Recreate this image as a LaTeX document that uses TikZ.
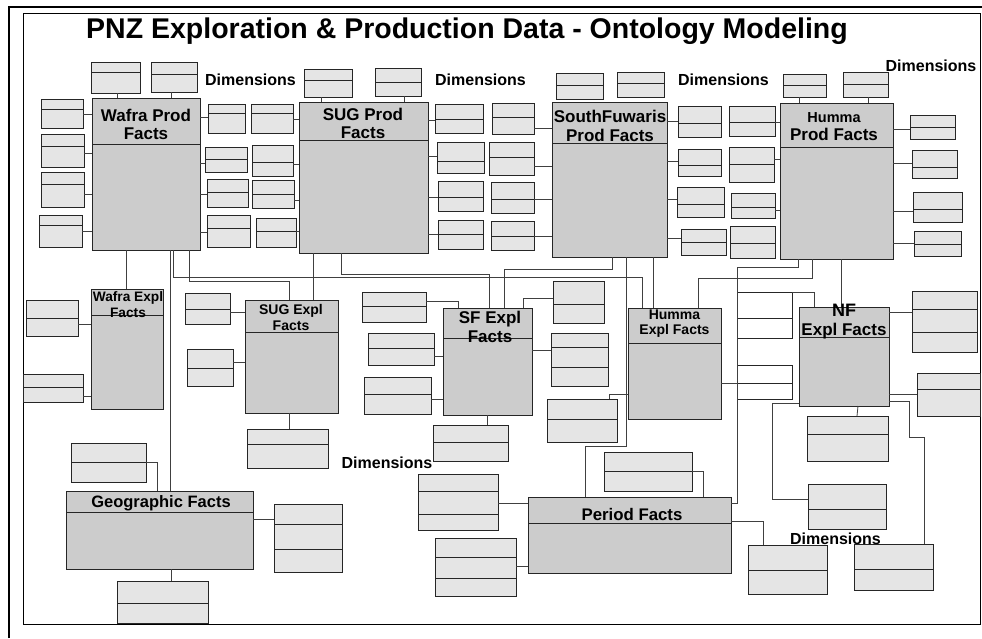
\documentclass[tikz,border=0pt]{standalone}
\usepackage{fontspec}
\setmainfont{Liberation Sans}
\definecolor{dimfill}{gray}{0.9}
\definecolor{factfill}{gray}{0.8}
\definecolor{edgec}{gray}{0.15}
\definecolor{wirec}{gray}{0.25}
\newcommand\mkbox[7]{%
  \node[#1, minimum width={(#5-#3)*1pt}, minimum height={(#6-#4)*1pt}] (#2) at ({(#3+#5)/2},{(#4+#6)/2}) {};
  \foreach \dv in {#7}{\draw[divl] (#2.west|-0,\dv) -- (#2.east|-0,\dv);}
}
\newcommand\fs[2]{\fontsize{#1}{#2}\selectfont}
\tikzset{
  dbox/.style={rectangle, draw=edgec, fill=dimfill, line width=0.9pt, inner sep=0pt, outer sep=0pt},
  wbox/.style={rectangle, draw=edgec, fill=white, line width=0.9pt, inner sep=0pt, outer sep=0pt},
  fbox/.style={rectangle, draw=edgec, fill=factfill, line width=1pt, inner sep=0pt, outer sep=0pt},
  divl/.style={draw=edgec, line width=0.9pt},
  conn/.style={draw=wirec, line width=0.8pt},
  ftext/.style={font=\bfseries, align=center, inner sep=0pt, text=black},
  dimlab/.style={font=\bfseries\fs{16}{18}, inner sep=0pt, text=black},
}
\begin{document}
\begin{tikzpicture}[x=1pt,y=-1pt]
\useasboundingbox (0,0) rectangle (982,638);
% frame
\draw[line width=2.2pt] (9,638) -- (9,7) -- (982,7);
\draw[line width=1pt] (23,13) rectangle (980,624);
\node[font=\bfseries\fs{28.5}{30}, inner sep=0pt] (title) at (467,31) {PNZ Exploration \& Production Data - Ontology Modeling};

% dimension labels
\node[dimlab] (dl1) at (250.5,80) {Dimensions};
\node[dimlab] (dl2) at (480.5,80) {Dimensions};
\node[dimlab] (dl3) at (723.5,80) {Dimensions};
\node[dimlab] (dl4) at (931,66) {Dimensions};
\node[dimlab] (dl5) at (387,463) {Dimensions};
\node[dimlab] (dl6) at (835.5,539) {Dimensions};

% fact boxes
\mkbox{fbox}{wp}{92}{98}{200}{250}{144}
\mkbox{fbox}{sp}{299}{102}{428}{253}{140}
\mkbox{fbox}{fp}{552}{102}{667}{257}{143}
\mkbox{fbox}{hp}{780}{103}{893}{259}{147}
\mkbox{fbox}{we}{91}{289}{163}{409}{315}
\mkbox{fbox}{se}{245}{300}{338}{413}{332}
\mkbox{fbox}{fe}{443}{308}{532}{415}{338}
\mkbox{fbox}{he}{628}{308}{721}{419}{343}
\mkbox{fbox}{ne}{799}{307}{889}{406}{337}
\mkbox{fbox}{geo}{66}{491}{253}{569}{512}
\mkbox{fbox}{per}{528}{497}{731}{573}{523}

% top dimension boxes
\mkbox{dbox}{a1}{91}{62}{140}{93}{72}
\mkbox{dbox}{a2}{151}{62}{197}{92}{74}
\mkbox{dbox}{b1}{304}{69}{352}{97}{80}
\mkbox{dbox}{b2}{375}{68}{421}{96}{82}
\mkbox{dbox}{c1}{556}{73}{603}{99}{85}
\mkbox{dbox}{c2}{617}{72}{664}{97}{83}
\mkbox{dbox}{d1}{783}{74}{826}{97}{85}
\mkbox{dbox}{d2}{843}{72}{888}{97}{84}
\draw[conn] (a1.south-|117,0) -- (wp.north-|117,0);
\draw[conn] (a2.south-|171,0) -- (wp.north-|171,0);
\draw[conn] (b1.south-|321,0) -- (sp.north-|321,0);
\draw[conn] (b2.south-|404,0) -- (sp.north-|404,0);
\draw[conn] (d1.south-|799,0) -- (hp.north-|799,0);
\draw[conn] (d2.south-|868,0) -- (hp.north-|868,0);

% Wafra left
\mkbox{dbox}{l1}{41}{99}{83}{128}{109}
\mkbox{dbox}{l2}{41}{134}{84}{167}{146}
\mkbox{dbox}{l3}{41}{172}{84}{207}{184}
\mkbox{dbox}{l4}{39}{215}{82}{247}{225}
\draw[conn] (l1.east|-0,114) -- (wp.west|-0,114);
\draw[conn] (l2.east|-0,153) -- (wp.west|-0,153);
\draw[conn] (l3.east|-0,194) -- (wp.west|-0,194);
\draw[conn] (l4.east|-0,231) -- (wp.west|-0,231);

% Wafra - SUG
\mkbox{dbox}{r1}{208}{104}{245}{133}{113}
\mkbox{dbox}{r2}{251}{104}{293}{133}{113}
\mkbox{dbox}{r3}{205}{147}{247}{172}{159}
\mkbox{dbox}{r4}{252}{145}{293}{176}{162}
\mkbox{dbox}{r5}{207}{179}{248}{207}{192}
\mkbox{dbox}{r6}{252}{180}{294}{208}{194}
\mkbox{dbox}{r7}{207}{215}{250}{247}{228}
\mkbox{dbox}{r8}{256}{218}{296}{247}{231}
\draw[conn] (wp.east|-0,117) -- (r1.west|-0,117);
\draw[conn] (r2.east|-0,119) -- (sp.west|-0,119);
\draw[conn] (wp.east|-0,163) -- (r3.west|-0,163);
\draw[conn] (r4.east|-0,164) -- (sp.west|-0,164);
\draw[conn] (wp.east|-0,194) -- (r5.west|-0,194);
\draw[conn] (r6.east|-0,200) -- (sp.west|-0,200);
\draw[conn] (wp.east|-0,232) -- (r7.west|-0,232);
\draw[conn] (r8.east|-0,231) -- (sp.west|-0,231);

% SUG - SF
\mkbox{dbox}{m1}{435}{104}{483}{133}{119}
\mkbox{dbox}{m2}{492}{103}{534}{134}{117}
\mkbox{dbox}{m3}{437}{142}{484}{173}{161}
\mkbox{dbox}{m4}{489}{142}{534}{175}{157}
\mkbox{dbox}{m5}{438}{181}{483}{211}{197}
\mkbox{dbox}{m6}{491}{182}{534}{213}{199}
\mkbox{dbox}{m7}{438}{220}{483}{249}{234}
\mkbox{dbox}{m8}{491}{221}{534}{250}{236}
\draw[conn] (sp.east|-0,120) -- (m1.west|-0,120);
\draw[conn] (m2.east|-0,128) -- (fp.west|-0,128);
\draw[conn] (sp.east|-0,156) -- (m3.west|-0,156);
\draw[conn] (m4.east|-0,166) -- (fp.west|-0,166);
\draw[conn] (sp.east|-0,197) -- (m5.west|-0,197);
\draw[conn] (m6.east|-0,199) -- (fp.west|-0,199);
\draw[conn] (sp.east|-0,234) -- (m7.west|-0,234);
\draw[conn] (m8.east|-0,236) -- (fp.west|-0,236);

% SF - Humma
\mkbox{dbox}{n1}{678}{106}{721}{137}{123}
\mkbox{dbox}{n2}{729}{106}{775}{136}{122}
\mkbox{dbox}{n3}{678}{149}{721}{176}{165}
\mkbox{dbox}{n4}{729}{147}{774}{182}{164}
\mkbox{dbox}{n5}{677}{187}{724}{217}{204}
\mkbox{dbox}{n6}{731}{193}{775}{218}{207}
\mkbox{dbox}{n7}{681}{229}{726}{255}{242}
\mkbox{dbox}{n8}{730}{226}{775}{258}{243}
\draw[conn] (fp.east|-0,121) -- (n1.west|-0,121);
\draw[conn] (n2.east|-0,122) -- (hp.west|-0,122);
\draw[conn] (fp.east|-0,161) -- (n3.west|-0,161);
\draw[conn] (n4.east|-0,159) -- (hp.west|-0,159);
\draw[conn] (fp.east|-0,199) -- (n5.west|-0,199);
\draw[conn] (n6.east|-0,210) -- (hp.west|-0,210);
\draw[conn] (fp.east|-0,238) -- (n7.west|-0,238);

% Humma right
\mkbox{dbox}{h1}{910}{115}{955}{139}{127}
\mkbox{dbox}{h2}{912}{150}{957}{178}{167}
\mkbox{dbox}{h3}{913}{192}{962}{222}{209}
\mkbox{dbox}{h4}{914}{231}{961}{256}{244}
\draw[conn] (hp.east|-0,129) -- (h1.west|-0,129);
\draw[conn] (hp.east|-0,163) -- (h2.west|-0,163);
\draw[conn] (hp.east|-0,211) -- (h3.west|-0,211);
\draw[conn] (hp.east|-0,243) -- (h4.west|-0,243);

% Wafra Expl
\mkbox{dbox}{w1}{26}{300}{78}{336}{318}
\mkbox{dbox}{w2}{23}{374}{83}{402}{387}
\draw[conn] (w1.east|-0,324) -- (we.west|-0,324);
\draw[conn] (w2.east|-0,396) -- (we.west|-0,396);

% SUG Expl
\mkbox{dbox}{s1}{185}{293}{230}{324}{309}
\mkbox{dbox}{s2}{187}{349}{233}{386}{368}
\mkbox{dbox}{s3}{247}{429}{328}{468}{444}
\draw[conn] (s1.east|-0,312) -- (se.west|-0,312);
\draw[conn] (s2.east|-0,362) -- (se.west|-0,362);
\draw[conn] (se.south-|289,0) -- (s3.north-|289,0);

% SF Expl
\mkbox{dbox}{f1}{362}{292}{426}{322}{306}
\mkbox{dbox}{f2}{368}{333}{434}{365}{348}
\mkbox{dbox}{f3}{364}{377}{431}{414}{394}
\mkbox{dbox}{f4}{553}{281}{604}{323}{304}
\mkbox{dbox}{f5}{551}{333}{608}{386}{347,367}
\mkbox{dbox}{f6}{547}{399}{617}{442}{419}
\mkbox{dbox}{f7}{433}{425}{508}{461}{442}
\draw[conn] (f1.east|-0,301) -| (fe.north-|458,0);
\draw[conn] (f2.east|-0,356) -- (fe.west|-0,356);
\draw[conn] (f3.east|-0,399) -- (fe.west|-0,399);
\draw[conn] (f4.west|-0,298) -| (fe.north-|523,0);
\draw[conn] (fe.east|-0,350) -- (f5.west|-0,350);
\draw[conn] (f6.north-|609,0) |- (he.west|-0,394);
\draw[conn] (fe.south-|487,0) -- (f7.north-|487,0);

% Humma Expl side boxes
\mkbox{wbox}{k1}{737}{292}{792}{338}{318}
\mkbox{wbox}{k2}{737}{365}{792}{399}{383}
\draw[conn] (he.east|-0,383) -- (k2.west|-0,383);
\draw[conn] (k1.north east) -| (ne.north-|814,0);

% NF
\mkbox{dbox}{q1}{912}{291}{977}{352}{309,332}
\mkbox{dbox}{q2}{917}{373}{980}{416}{389}
\mkbox{dbox}{q3}{807}{416}{888}{461}{434}
\mkbox{dbox}{q4}{808}{484}{886}{529}{509}
\mkbox{dbox}{q5}{854}{544}{933}{590}{569}
\draw[conn] (ne.east|-0,312) -- (q1.west|-0,312);
\draw[conn] (ne.east|-0,394) -- (q2.west|-0,394);
\draw[conn] (ne.south-|858,0) -- (q3.north-|857,0);
\draw[conn] (ne.west|-0,403) -- (772,403) |- (q4.west|-0,499);
\draw[conn] (ne.east|-0,401) -- (909,401) -- (909,437) -| (q5.north-|924,0);

% Period
\mkbox{dbox}{p1}{604}{452}{692}{491}{471}
\mkbox{dbox}{p2}{418}{474}{498}{530}{491,514}
\mkbox{dbox}{p3}{435}{538}{516}{596}{557,578}
\mkbox{dbox}{p4}{748}{545}{827}{594}{570}
\draw[conn] (p1.east|-0,471) -| (per.north-|703,0);
\draw[conn] (p2.east|-0,503) -- (per.west|-0,503);
\draw[conn] (p3.east|-0,566) -- (per.west|-0,566);
\draw[conn] (per.east|-0,521) -| (p4.north-|763,0);

% Geographic
\mkbox{dbox}{g1}{71}{443}{146}{482}{462}
\mkbox{dbox}{g2}{274}{504}{342}{572}{524,549}
\mkbox{dbox}{g3}{117}{581}{208}{623}{603}
\draw[conn] (g1.east|-0,462) -| (geo.north-|157,0);
\draw[conn] (geo.east|-0,519) -- (g2.west|-0,519);
\draw[conn] (geo.south-|171,0) -- (g3.north-|171,0);

% long connectors between fact boxes
\draw[conn] (wp.south-|126,0) -- (we.north-|126,0);
\draw[conn] (wp.south-|170,0) -- (geo.north-|170,0);
\draw[conn] (wp.south-|173,0) -- (173,277) -| (he.north-|642,0);
\draw[conn] (wp.south-|189,0) -- (189,281) -| (se.north-|289,0);
\draw[conn] (sp.south-|313,0) -- (se.north-|313,0);
\draw[conn] (sp.south-|341,0) -- (341,274) -| (fe.north-|489,0);
\draw[conn] (fp.south-|612,0) -- (612,269) -| (fe.north-|504,0);
\draw[conn] (fp.south-|626,0) -- (626,446) -| (per.north-|585,0);
\draw[conn] (fp.south-|653,0) -- (he.north-|653,0);
\draw[conn] (hp.south-|798,0) -- (798,267) -- (737,267) |- (per.east|-0,503);
\draw[conn] (hp.south-|812,0) -- (812,278) -| (he.north-|698,0);
\draw[conn] (hp.south-|841,0) -- (ne.north-|841,0);

% fact texts
\node[ftext, font=\bfseries\fs{17}{18}] (wp-t) at (146,124) {Wafra Prod\\Facts};
\node[ftext, font=\bfseries\fs{17}{17.5}] (sp-t) at (363,123.5) {SUG Prod\\Facts};
\node[ftext, font=\bfseries\fs{17}{19}] (fp-t) at (610,125.5) {SouthFuwaris\\Prod Facts};
\node[ftext, font=\bfseries\fs{17}{18}] (hp-t) at (834,127) {{\fs{14.5}{16}Humma}\\Prod Facts};
\node[ftext, font=\bfseries\fs{13.7}{16}] (we-t) at (128,305) {Wafra Expl\\Facts};
\node[ftext, font=\bfseries\fs{14}{15.5}] (se-t) at (291,317.5) {SUG Expl\\Facts};
\node[ftext, font=\bfseries\fs{17}{19}] (fe-t) at (490,326.5) {SF Expl\\Facts};
\node[ftext, font=\bfseries\fs{14}{15}] (he-t) at (674.5,323.5) {Humma\\Expl Facts};
\node[ftext, font=\bfseries\fs{17}{19}] (ne-t) at (844,322) {{\fs{18}{19}NF}\\Expl Facts};
\node[ftext, font=\bfseries\fs{16.5}{18}] (geo-t) at (161,503) {Geographic Facts};
\node[ftext, font=\bfseries\fs{16.8}{18}] (per-t) at (632,514) {Period Facts};
\end{tikzpicture}
\end{document}
